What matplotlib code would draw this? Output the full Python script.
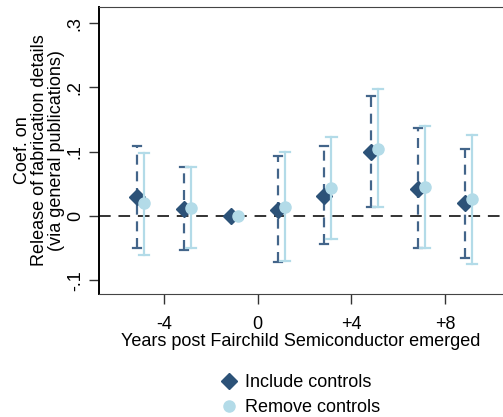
import numpy as np
import matplotlib
matplotlib.use("Agg")
import matplotlib.pyplot as plt
from matplotlib.lines import Line2D

plt.rcParams['font.family'] = ['Liberation Sans', 'DejaVu Sans']

# event time (years relative to Fairchild)
years = np.array([-5, -3, -1, 1, 3, 5, 7, 9])

# include controls
inc_coef = [0.029, 0.011, 0.0, 0.010, 0.032, 0.099, 0.042, 0.021]
inc_lo = [-0.050, -0.053, 0.0, -0.071, -0.044, 0.0135, -0.050, -0.065]
inc_hi = [0.109, 0.077, 0.0, 0.094, 0.109, 0.187, 0.137, 0.105]

# remove controls
rem_coef = [0.020, 0.013, 0.0, 0.015, 0.043, 0.105, 0.045, 0.026]
rem_lo = [-0.061, -0.050, 0.0, -0.070, -0.036, 0.0135, -0.050, -0.075]
rem_hi = [0.098, 0.076, 0.0, 0.099, 0.123, 0.197, 0.140, 0.126]

xticks = [-4, 0, 4, 8]
xticklabels = ['-4', '0', '+4', '+8']
yticks = [-0.1, 0, 0.1, 0.2, 0.3]
yticklabels = ['-.1', '0', '.1', '.2', '.3']

dark = '#2c5278'
dark_bar = '#43658a'
light = '#b3dbe8'

fig = plt.figure(figsize=(5.03, 4.17), dpi=100)
ax = fig.add_axes([0.197, 0.295, 0.803, 0.688])

off = 0.15
ci = [i for i in range(len(years)) if inc_hi[i] != inc_lo[i]]
xi = years - off
xr = years + off

for i in ci:
    ax.plot([xi[i], xi[i]], [inc_lo[i], inc_hi[i]], color=dark_bar, lw=1.6,
            dashes=(4.5, 3), zorder=2)
    for yv in (inc_lo[i], inc_hi[i]):
        ax.plot([xi[i] - 0.17, xi[i] + 0.17], [yv, yv], color=dark_bar, lw=1.6, zorder=2)
ax.plot(xi, inc_coef, 'D', color=dark, ms=8, mec=dark, zorder=3)

for i in ci:
    ax.plot([xr[i], xr[i]], [rem_lo[i], rem_hi[i]], color=light, lw=1.6, zorder=4)
    for yv in (rem_lo[i], rem_hi[i]):
        ax.plot([xr[i] - 0.22, xr[i] + 0.22], [yv, yv], color=light, lw=1.6, zorder=4)
ax.plot(xr, rem_coef, 'o', color=light, ms=8, mec=light, zorder=5)

ax.axhline(0, color='#333333', lw=1.4, dashes=(6, 4), zorder=1)

ax.set_xlim(-6.78, 10.48)
ax.set_ylim(-0.121, 0.325)
ax.set_xticks(xticks)
ax.set_xticklabels(xticklabels, fontsize=13)
ax.set_yticks(yticks)
ax.set_yticklabels(yticklabels, fontsize=13, rotation=90, va='center')
ax.tick_params(direction='out', length=7, width=1, color='#333333', pad=4)
ax.tick_params(axis='x', pad=9)
ax.set_xlabel('Years post Fairchild Semiconductor emerged', fontsize=13, labelpad=0)
ax.set_ylabel('Coef. on\nRelease of fabrication details\n(via general publications)',
              fontsize=13, linespacing=1.0, labelpad=1.5)

ax.spines['right'].set_visible(False)
ax.spines['left'].set_color('black')
ax.spines['left'].set_linewidth(1.4)
ax.spines['top'].set_color('#444444')
ax.spines['bottom'].set_color('#444444')

handles = [Line2D([], [], marker='D', ls='', color=dark, ms=8),
           Line2D([], [], marker='o', ls='', color=light, ms=8)]
fig.legend(handles, ['Include controls', 'Remove controls'], loc='center',
           bbox_to_anchor=(0.595, 0.052), frameon=False, fontsize=13,
           handletextpad=0.3, labelspacing=0.45, handlelength=1.2)

fig.savefig('out.png', dpi=100)
